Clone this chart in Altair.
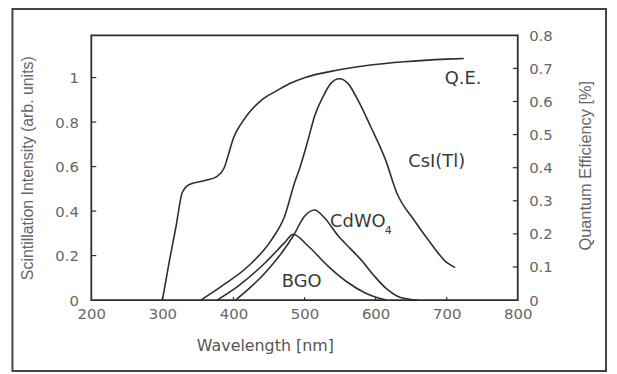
import altair as alt
import pandas as pd

# ---------------- data ----------------
qe_nm = [300, 310, 319, 328, 338, 361, 377, 387, 393, 400, 410, 421, 440, 463, 480, 500, 547, 593, 640, 700, 724]
qe_val = [0.0, 0.12, 0.22, 0.325, 0.349, 0.362, 0.374, 0.40, 0.44, 0.49, 0.53, 0.564, 0.605, 0.635, 0.655,
          0.672, 0.695, 0.71, 0.72, 0.728, 0.73]

csi_nm = [354, 384, 421, 454, 472, 486, 494, 505, 514, 526, 537, 549, 561, 575, 593, 614, 630, 654, 677, 700, 712]
csi_val = [0.0, 0.064, 0.153, 0.273, 0.377, 0.527, 0.60, 0.72, 0.825, 0.914, 0.974, 0.995, 0.974, 0.90,
           0.78, 0.63, 0.48, 0.36, 0.258, 0.169, 0.146]

cdwo_nm = [403, 421, 445, 468, 484, 500, 514, 528, 547, 563, 579, 598, 616, 635, 660]
cdwo_val = [0.0, 0.049, 0.124, 0.213, 0.288, 0.377, 0.405, 0.37, 0.29, 0.236, 0.183, 0.109, 0.049, 0.012, 0.0]

bgo_nm = [377, 407, 445, 472, 484, 505, 533, 561, 584, 605, 615]
bgo_val = [0.0, 0.064, 0.169, 0.258, 0.296, 0.243, 0.153, 0.079, 0.034, 0.008, 0.0]

x_ticks = [200, 300, 400, 500, 600, 700, 800]
left_ticks = [0, 0.2, 0.4, 0.6, 0.8, 1]
right_ticks = [0, 0.1, 0.2, 0.3, 0.4, 0.5, 0.6, 0.7, 0.8]

# curve labels (position in data units)
scint_labels = pd.DataFrame({
    "text": ["CsI(Tl)", "BGO"],
    "nm": [686, 496],
    "val": [0.62, 0.08],
})
cdwo_label = pd.DataFrame({"text": ["CdWO"], "nm": [536], "val": [0.353]})
cdwo_sub = pd.DataFrame({"text": ["4"], "nm": [613], "val": [0.31]})
qe_label = pd.DataFrame({"text": ["Q.E."], "nm": [723], "val": [0.668]})

# ---------------- frames ----------------
rows = []
for name, xs, ys in [("CsI(Tl)", csi_nm, csi_val), ("CdWO4", cdwo_nm, cdwo_val), ("BGO", bgo_nm, bgo_val)]:
    for i, (a, b) in enumerate(zip(xs, ys)):
        rows.append({"series": name, "nm": a, "val": b, "i": i})
scint_df = pd.DataFrame(rows)
qe_df = pd.DataFrame({"nm": qe_nm, "val": qe_val, "i": list(range(len(qe_nm)))})

W, H = 430, 267
LINE = "#2e2e2e"
FONT = "DejaVu Sans"
VFONT = "Liberation Sans"

xscale = alt.Scale(domain=[200, 800], nice=False, zero=False)
lscale = alt.Scale(domain=[0, 1.19], nice=False)
rscale = alt.Scale(domain=[0, 0.8], nice=False)

x_axis = alt.Axis(values=x_ticks, format="d", ticks=False, domain=False, grid=False,
                  labelPadding=7, labelFontSize=15, labelColor="#666666", labelFlush=False,
                  labelOverlap=False, labelFont=FONT,
                  title="Wavelength [nm]", titleFontSize=16, titleFont=FONT,
                  titleFontWeight="normal", titleColor="#555555", titleX=175, titleY=46,
                  titleBaseline="middle")

left_axis = alt.Axis(values=left_ticks, format="~g", ticks=False, domain=False, grid=False,
                     orient="left", labelPadding=13, labelFontSize=15, labelColor="#666666",
                     labelFlush=False, labelOverlap=False, labelFont=FONT,
                     title="Scintillation Intensity (arb. units)", titleFontSize=16, titleFont=VFONT,
                     titleFontWeight="normal", titleColor="#666666", titleX=-64, titleY=H / 2,
                     titleAngle=270, titleBaseline="middle")

right_axis = alt.Axis(values=right_ticks, format="~g", ticks=False, domain=False, grid=False,
                      orient="right", labelPadding=11, labelFontSize=15, labelColor="#666666",
                      labelFlush=False, labelOverlap=False, labelFont=FONT,
                      title="Quantum Efficiency [%]", titleFontSize=16.5, titleFont=VFONT,
                      titleFontWeight="normal", titleColor="#666666", titleX=68, titleY=131,
                      titleAngle=270, titleBaseline="middle")

TXT = dict(fontSize=18, color="#3a3a3a", font=FONT, baseline="middle")


def X(field):
    return alt.X(field, scale=xscale, axis=x_axis)


# ---------- scintillation curves (left axis) ----------
scint_lines = alt.Chart(scint_df).mark_line(color=LINE, strokeWidth=1.6, interpolate="monotone").encode(
    x=X("nm:Q"),
    y=alt.Y("val:Q", scale=lscale, axis=left_axis),
    detail="series:N",
    order="i:Q",
)

scint_text = alt.Chart(scint_labels).mark_text(align="center", **TXT).encode(
    x=X("nm:Q"), y=alt.Y("val:Q", scale=lscale, axis=None), text="text:N")

cdwo_text = alt.Chart(cdwo_label).mark_text(align="left", **TXT).encode(
    x=X("nm:Q"), y=alt.Y("val:Q", scale=lscale, axis=None), text="text:N")

cdwo_sub_text = alt.Chart(cdwo_sub).mark_text(align="left", fontSize=11, color="#3a3a3a", font=FONT,
                                              baseline="middle").encode(
    x=X("nm:Q"), y=alt.Y("val:Q", scale=lscale, axis=None), text="text:N")

lt_df = pd.DataFrame({"v": left_ticks[1:]})
left_tick_marks = alt.Chart(lt_df).mark_rule(color=LINE, strokeWidth=1.2).encode(
    y=alt.Y("v:Q", scale=lscale, axis=None), x=alt.value(0), x2=alt.value(5))

xt_df = pd.DataFrame({"nm": x_ticks[1:-1]})
x_tick_marks = alt.Chart(xt_df).mark_rule(color=LINE, strokeWidth=1.2).encode(
    x=X("nm:Q"), y=alt.value(H - 3), y2=alt.value(H))

frame = alt.Chart(pd.DataFrame({"a": [0]})).mark_rect(
    fillOpacity=0, stroke="#444444", strokeWidth=2, clip=False).encode(
    x=alt.value(-79.5), x2=alt.value(519), y=alt.value(-26.5), y2=alt.value(338.5))

# ---------- QE curve (right axis) ----------
qe_line = alt.Chart(qe_df).mark_line(color=LINE, strokeWidth=1.6, interpolate="monotone").encode(
    x=X("nm:Q"),
    y=alt.Y("val:Q", scale=rscale, axis=right_axis),
    order="i:Q",
)

qe_text = alt.Chart(qe_label).mark_text(align="center", **TXT).encode(
    x=X("nm:Q"), y=alt.Y("val:Q", scale=rscale, axis=None), text="text:N")

rt_df = pd.DataFrame({"v": right_ticks[1:-1]})
right_tick_marks = alt.Chart(rt_df).mark_rule(color=LINE, strokeWidth=1.2).encode(
    y=alt.Y("v:Q", scale=rscale, axis=None), x=alt.value(W - 5), x2=alt.value(W))

chart = alt.layer(
    scint_lines, qe_line, scint_text, cdwo_text, cdwo_sub_text, qe_text,
    left_tick_marks, right_tick_marks, x_tick_marks, frame,
).resolve_scale(y="independent").properties(
    width=W, height=H,
    autosize=alt.AutoSizeParams(type="none"),
    padding={"left": 84, "top": 26, "right": 92, "bottom": 73},
    background="white",
).configure(font=FONT).configure_view(stroke=LINE, strokeWidth=1.8)

chart.save("out.html", embed_options={"renderer": "svg", "actions": False})
